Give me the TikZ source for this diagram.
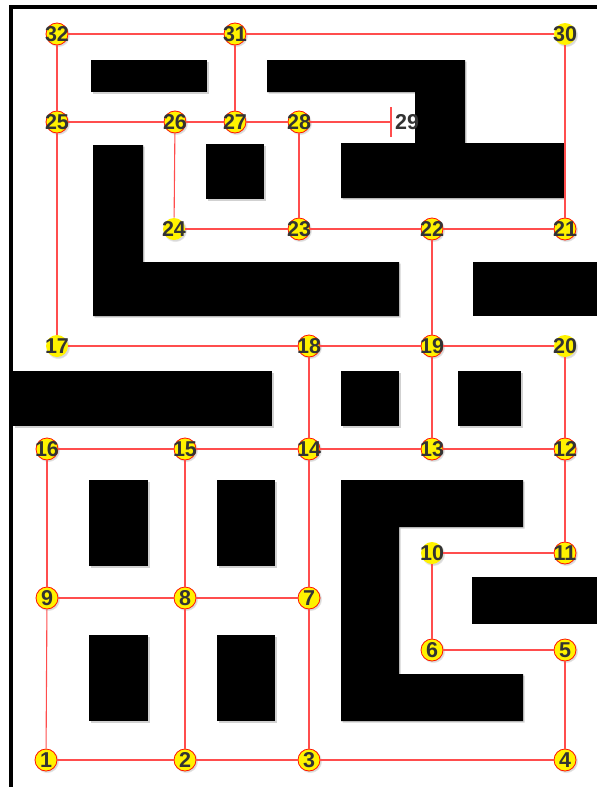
\documentclass[tikz,border=0pt]{standalone}
\usepackage{fontspec}
\setmainfont{Liberation Sans}
\usetikzlibrary{shadows}
\definecolor{txt}{HTML}{333333}
\definecolor{edge}{HTML}{FF4D4D}
\tikzset{
  wall/.style={fill=black, draw=none},
  wallshadow/.style={fill=black!18, draw=none},
  vtx/.style={circle, fill=yellow, draw=red!85!orange, line width=0.8pt, minimum size=22pt, inner sep=0pt,
     font=\fontsize{21.5}{21.5}\selectfont\bfseries, text=txt,
     circular drop shadow={shadow xshift=1pt, shadow yshift=-1pt, fill=black!25, opacity=0.6}},
  vtxn/.style={vtx, draw=none},
  link/.style={draw=edge, line width=1.1pt},
  border/.style={line width=3.2pt, draw=black}
}
\newcommand{\lab}[1]{\makebox[0pt]{#1}}
\begin{document}
\begin{tikzpicture}[x=1pt,y=-1pt]
\useasboundingbox (0,0) rectangle (597,787);
% border
\draw[border] (11,787) -- (11,7) -- (597,7);
% wall shadows
\begin{scope}[shift={(1.5,1.5)}]
\fill[wallshadow] (91,60) rectangle (207,92);
\fill[wallshadow] (267,60) -- (465,60) -- (465,143) -- (564,143) -- (564,198) -- (341,198) -- (341,143) -- (415,143) -- (415,92) -- (267,92) -- cycle;
\fill[wallshadow] (206,144) rectangle (264,199);
\fill[wallshadow] (93,145) -- (143,145) -- (143,262) -- (399,262) -- (399,316) -- (93,316) -- cycle;
\fill[wallshadow] (13,371) rectangle (272,426);
\fill[wallshadow] (341,371) rectangle (399,426);
\fill[wallshadow] (458,371) rectangle (521,426);
\fill[wallshadow] (89,480) rectangle (148,566);
\fill[wallshadow] (217,480) rectangle (275,566);
\fill[wallshadow] (89,635) rectangle (148,721);
\fill[wallshadow] (217,635) rectangle (275,721);
\fill[wallshadow] (341,480) -- (523,480) -- (523,527) -- (399,527) -- (399,674) -- (523,674) -- (523,721) -- (341,721) -- cycle;
\end{scope}
% walls
\fill[wall] (91,60) rectangle (207,92);
\fill[wall] (267,60) -- (465,60) -- (465,143) -- (564,143) -- (564,198) -- (341,198) -- (341,143) -- (415,143) -- (415,92) -- (267,92) -- cycle;
\fill[wall] (206,144) rectangle (264,199);
\fill[wall] (93,145) -- (143,145) -- (143,262) -- (399,262) -- (399,316) -- (93,316) -- cycle;
\fill[wall] (473,262) rectangle (597,316);
\fill[wall] (13,371) rectangle (272,426);
\fill[wall] (341,371) rectangle (399,426);
\fill[wall] (458,371) rectangle (521,426);
\fill[wall] (89,480) rectangle (148,566);
\fill[wall] (217,480) rectangle (275,566);
\fill[wall] (89,635) rectangle (148,721);
\fill[wall] (217,635) rectangle (275,721);
\fill[wall] (341,480) -- (523,480) -- (523,527) -- (399,527) -- (399,674) -- (523,674) -- (523,721) -- (341,721) -- cycle;
\fill[wall] (472,577) rectangle (597,624);
% nodes
\node[vtx]  (n32) at (57,34)  {\lab{32}};
\node[vtx]  (n31) at (235,34) {\lab{31}};
\node[vtxn] (n30) at (565,34) {\lab{30}};
\node[vtx]  (n25) at (57,122) {\lab{25}};
\node[vtx]  (n26) at (175,122) {\lab{26}};
\node[vtx]  (n27) at (235,122) {\lab{27}};
\node[vtx]  (n28) at (299,122) {\lab{28}};
\coordinate (t29) at (391,122);
\node[font=\fontsize{21.5}{21.5}\selectfont\bfseries, text=txt, anchor=west, inner sep=0pt] (l29) at (395,122) {29};
\node[vtxn] (n24) at (174,229) {\lab{24}};
\node[vtx]  (n23) at (299,229) {\lab{23}};
\node[vtx]  (n22) at (432,229) {\lab{22}};
\node[vtx]  (n21) at (565,229) {\lab{21}};
\node[vtxn] (n17) at (57,346) {\lab{17}};
\node[vtx]  (n18) at (309,346) {\lab{18}};
\node[vtx]  (n19) at (432,346) {\lab{19}};
\node[vtxn] (n20) at (565,346) {\lab{20}};
\node[vtx]  (n16) at (47,449) {\lab{16}};
\node[vtx]  (n15) at (185,449) {\lab{15}};
\node[vtx]  (n14) at (309,449) {\lab{14}};
\node[vtx]  (n13) at (432,449) {\lab{13}};
\node[vtx]  (n12) at (565,449) {\lab{12}};
\node[vtxn] (n10) at (432,553) {\lab{10}};
\node[vtx]  (n11) at (565,553) {\lab{11}};
\node[vtx]  (n9) at (47,598) {\lab{9}};
\node[vtx]  (n8) at (185,598) {\lab{8}};
\node[vtx]  (n7) at (309,598) {\lab{7}};
\node[vtx]  (n6) at (432,650) {\lab{6}};
\node[vtx]  (n5) at (565,650) {\lab{5}};
\node[vtx]  (n1) at (46,760) {\lab{1}};
\node[vtx]  (n2) at (185,760) {\lab{2}};
\node[vtx]  (n3) at (309,760) {\lab{3}};
\node[vtx]  (n4) at (565,760) {\lab{4}};
% edges
\draw[link] (n32) -- (n31);
\draw[link] (n31) -- (n30);
\draw[link] (n32) -- (n25);
\draw[link] (n31) -- (n27);
\draw[link] (n30) -- (n21);
\draw[link] (n25) -- (n26);
\draw[link] (n26) -- (n27);
\draw[link] (n27) -- (n28);
\draw[link] (n28) -- (t29);
\draw[link] ([yshift=-15pt]t29) -- ([yshift=15pt]t29);
\draw[link] (n26) -- (n24);
\draw[link] (n28) -- (n23);
\draw[link] (n24) -- (n23);
\draw[link] (n23) -- (n22);
\draw[link] (n22) -- (n21);
\draw[link] (n22) -- (n19);
\draw[link] (n25) -- (n17);
\draw[link] (n17) -- (n18);
\draw[link] (n18) -- (n19);
\draw[link] (n19) -- (n20);
\draw[link] (n18) -- (n14);
\draw[link] (n19) -- (n13);
\draw[link] (n20) -- (n12);
\draw[link] (n16) -- (n15);
\draw[link] (n15) -- (n14);
\draw[link] (n14) -- (n13);
\draw[link] (n13) -- (n12);
\draw[link] (n12) -- (n11);
\draw[link] (n11) -- (n10);
\draw[link] (n10) -- (n6);
\draw[link] (n6) -- (n5);
\draw[link] (n5) -- (n4);
\draw[link] (n16) -- (n9);
\draw[link] (n15) -- (n8);
\draw[link] (n14) -- (n7);
\draw[link] (n7) -- (n3);
\draw[link] (n9) -- (n8);
\draw[link] (n8) -- (n7);
\draw[link] (n9) -- (n1);
\draw[link] (n8) -- (n2);
\draw[link] (n1) -- (n2);
\draw[link] (n2) -- (n3);
\draw[link] (n3) -- (n4);
\end{tikzpicture}
\end{document}
